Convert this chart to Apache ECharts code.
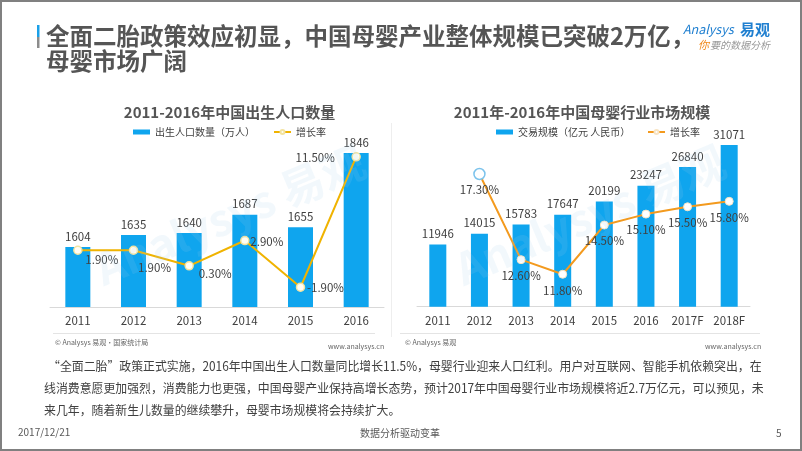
<!DOCTYPE html>
<html><head><meta charset="utf-8">
<script src="https://cdn.jsdelivr.net/npm/echarts@6/dist/echarts.min.js"></script>
<style>html,body{margin:0;padding:0;background:#fff}#c{width:802px;height:451px}</style>
</head><body><div id="c"></div>
<script>
// ---- data ----
const leftCats = ['2011','2012','2013','2014','2015','2016'];
const leftBirths = [1604,1635,1640,1687,1655,1846];
const leftRate = [1.9,1.9,0.3,2.9,-1.9,11.5];
const rightCats = ['2011','2012','2013','2014','2015','2016','2017F','2018F'];
const rightScale = [11946,14015,15783,17647,20199,23247,26840,31071];
const rightRate = [null,17.3,12.6,11.8,14.5,15.1,15.5,15.8];

// ---- styles ----
const FF = '"Noto Sans CJK SC", "Noto Sans", sans-serif';
const BLUE = '#0fa5ee';
const TXT = '#404040';
const leftLabelOffsets = [[24,9],[21,17],[26,8],[22,1],[25,0],[-41,1]];

const leftLineData = leftRate.map((v,i)=>({
  value: v,
  label: {offset: leftLabelOffsets[i]}
}));
const rightLineData = rightRate.map((v,i)=> i===1 ? {
  value: v, symbolSize: 11,
  itemStyle: {color:'#fff', borderColor:'#7cc3ec', borderWidth:1.5}
} : v);

const pct = p => (p.value==null?'':Number(p.value).toFixed(2)+'%');

const paragraph = [
  '“全面二胎”政策正式实施，2016年中国出生人口数量同比增长11.5%，母婴行业迎来人口红利。用户对互联网、智能手机依赖突出，在',
  '线消费意愿更加强烈，消费能力也更强，中国母婴产业保持高增长态势，预计2017年中国母婴行业市场规模将近2.7万亿元，可以预见，未',
  '来几年，随着新生儿数量的继续攀升，母婴市场规模将会持续扩大。'
];

function txt(x,y,text,opt){
  opt = opt||{};
  return {type:'text', x:x, y:y, scaleX: opt.scaleX||1, rotation: opt.rot||0, z: opt.z||10,
    style:{text:text, fill:opt.fill||TXT, fontSize:opt.size||12, fontFamily:FF,
      fontWeight:opt.weight||'normal', fontStyle:opt.style||'normal',
      align:opt.align||'left', verticalAlign:'middle'}};
}
function leg(left, name, icon){
  const item = icon ? {name:name, icon:icon} : {name:name};
  return {left:left, top:127, itemWidth:17, itemHeight:5, padding:0,
    textStyle:{color:TXT, fontSize:10, fontFamily:FF}, data:[item]};
}

const chart = echarts.init(document.getElementById('c'), null, {renderer:'canvas'});
chart.setOption({
  backgroundColor:'#fff',
  animation:false,
  textStyle:{fontFamily:FF},
  grid:[
    {left:50, top:132, width:334, height:175},
    {left:417, top:129.7, width:333, height:177}
  ],
  legend:[
    leg(133,'出生人口数量（万人）','rect'),
    leg(273,'增长率'),
    leg(496,'交易规模（亿元 人民币）','rect'),
    leg(647,'增长率 ')
  ],
  xAxis:[
    {gridIndex:0, type:'category', data:leftCats,
     axisLine:{onZero:false, lineStyle:{color:'#d9d9d9'}}, axisTick:{show:false},
     axisLabel:{color:TXT, fontSize:11.5, margin:8, interval:0, fontFamily:FF}},
    {gridIndex:1, type:'category', data:rightCats,
     axisLine:{onZero:false, lineStyle:{color:'#d9d9d9'}}, axisTick:{show:false},
     axisLabel:{color:TXT, fontSize:11.5, margin:8, interval:0, fontFamily:FF}}
  ],
  yAxis:[
    {gridIndex:0, show:false, min:1450, max:1900},
    {gridIndex:0, show:false, min:-3.93, max:14.05},
    {gridIndex:1, show:false, min:0, max:34000},
    {gridIndex:1, show:false, min:10.02, max:19.73}
  ],
  series:[
    {name:'出生人口数量（万人）', type:'bar', xAxisIndex:0, yAxisIndex:0, data:leftBirths,
     barWidth:25, itemStyle:{color:BLUE},
     label:{show:true, position:'top', distance:5, color:TXT, fontSize:11.5, fontFamily:FF}},
    {name:'增长率', type:'line', xAxisIndex:0, yAxisIndex:1, data:leftLineData,
     symbol:'circle', symbolSize:8, z:5,
     lineStyle:{color:'#f0b300', width:2},
     itemStyle:{color:'#fffef5', borderColor:'#f3e3a0', borderWidth:1.5},
     label:{show:true, position:'inside', color:TXT, fontSize:11.5, fontFamily:FF, formatter:pct}},
    {name:'交易规模（亿元 人民币）', type:'bar', xAxisIndex:1, yAxisIndex:2, data:rightScale,
     barWidth:17, itemStyle:{color:BLUE},
     label:{show:true, position:'top', distance:5, color:TXT, fontSize:11.5, fontFamily:FF}},
    {name:'增长率 ', type:'line', xAxisIndex:1, yAxisIndex:3, data:rightLineData,
     symbol:'circle', symbolSize:8, z:5,
     lineStyle:{color:'#f39a1e', width:2},
     itemStyle:{color:'#fff', borderColor:'#f8e4c4', borderWidth:1},
     label:{show:true, position:'inside', offset:[0,16], color:TXT, fontSize:11.5, fontFamily:FF, formatter:pct}}
  ],
  graphic:[
    {type:'rect', shape:{x:1,y:1,width:800,height:449}, style:{fill:'none', stroke:'#808080', lineWidth:2}, z:1},
    txt(230,215,'Analysys 易观',{size:44, weight:'bold', fill:'rgba(160,205,235,0.14)', align:'center', rot:0.4, z:0}),
    txt(590,215,'Analysys 易观',{size:44, weight:'bold', fill:'rgba(160,205,235,0.14)', align:'center', rot:0.4, z:0}),
    {type:'rect', shape:{x:37,y:25,width:2.5,height:12}, style:{fill:'#1aa0e8'}},
    {type:'rect', shape:{x:37,y:37,width:2.5,height:11}, style:{fill:'#8c8c8c'}},
    txt(46,36.5,'全面二胎政策效应初显，中国母婴产业整体规模已突破2万亿，',{size:23.5, weight:'bold', fill:'#555'}),
    txt(46,61,'母婴市场广阔',{size:23.5, weight:'bold', fill:'#555'}),
    txt(683,29,'Analysys',{size:12.5, style:'italic', fill:'#1f7fd0'}),
    txt(740,29,'易观',{size:15, weight:'bold', fill:'#1f7fd0'}),
    txt(698,45,'你',{size:11, style:'italic', fill:'#f08a1d'}),
    txt(710,45,'要的数据分析',{size:10, style:'italic', fill:'#999'}),
    txt(229.5,112,'2011-2016年中国出生人口数量',{size:15, weight:'bold', fill:'#555', align:'center'}),
    txt(582,112,'2011年-2016年中国母婴行业市场规模',{size:15, weight:'bold', fill:'#555', align:'center'}),
    {type:'line', shape:{x1:53,y1:333.5,x2:375,y2:333.5}, style:{stroke:'#e4e4e4', lineWidth:1}},
    {type:'line', shape:{x1:400,y1:333.5,x2:760,y2:333.5}, style:{stroke:'#e4e4e4', lineWidth:1}},
    {type:'line', shape:{x1:391.5,y1:123,x2:391.5,y2:337}, style:{stroke:'#eeeeee', lineWidth:1}},
    txt(55,342,'© Analysys 易观·国家统计局',{size:7, fill:'#666'}),
    txt(328,346,'www.analysys.cn',{size:7, fill:'#666'}),
    txt(405,342,'© Analysys 易观',{size:7, fill:'#666'}),
    txt(705,346,'www.analysys.cn',{size:7, fill:'#666'}),
    txt(48,366,paragraph[0],{size:12.5, scaleX:0.95}),
    txt(44,388,paragraph[1],{size:12.5, scaleX:0.95}),
    txt(44,410,paragraph[2],{size:12.5, scaleX:0.95}),
    txt(18,432,'2017/12/21',{size:10, fill:'#595959'}),
    txt(400,433,'数据分析驱动变革',{size:10, fill:'#595959', align:'center'}),
    txt(776,433,'5',{size:10, fill:'#595959'})
  ]
});
</script></body></html>
